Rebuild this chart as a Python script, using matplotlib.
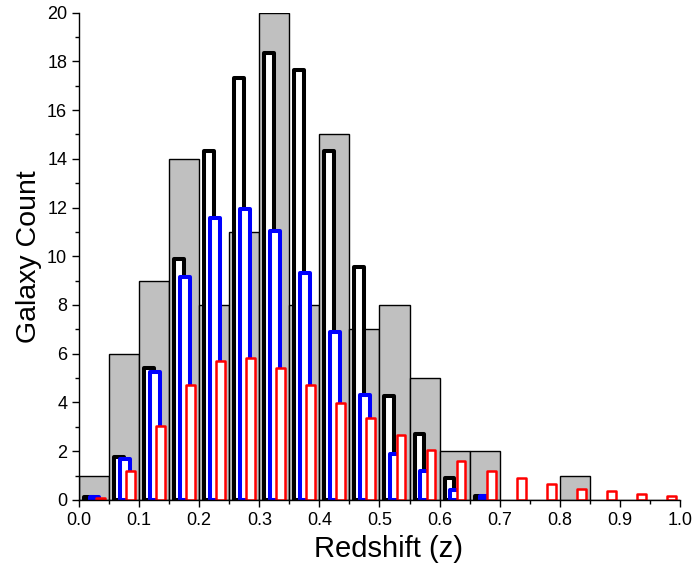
import matplotlib
matplotlib.use("Agg")
import matplotlib.pyplot as plt
import numpy as np
from matplotlib.ticker import MultipleLocator

plt.rcParams['font.family'] = ['Liberation Sans', 'DejaVu Sans']

bin_width = 0.05
bin_edges = np.round(np.arange(0, 1.0, bin_width), 2)  # left edges

gray_counts = [1, 6, 9, 14, 8, 11, 20, 8, 15, 7, 8, 5, 2, 2, 0, 0, 1, 0, 0, 0]
black_counts = [0.12, 1.75, 5.43, 9.9, 14.3, 17.3, 18.33, 17.65, 14.3, 9.55, 4.26, 2.7, 0.88, 0.16]
blue_counts = [0.12, 1.7, 5.26, 9.16, 11.55, 11.92, 11.03, 9.33, 6.9, 4.3, 1.89, 1.19, 0.41, 0.15]
red_counts = [0.08, 1.2, 3.04, 4.71, 5.69, 5.83, 5.42, 4.72, 3.97, 3.37, 2.67, 2.06, 1.61, 1.2,
              0.88, 0.66, 0.46, 0.35, 0.25, 0.17]

xticks = [0.0, 0.1, 0.2, 0.3, 0.4, 0.5, 0.6, 0.7, 0.8, 0.9, 1.0]
yticks = [0, 2, 4, 6, 8, 10, 12, 14, 16, 18, 20]

fig = plt.figure(figsize=(6.96, 5.72), dpi=100)
ax = fig.add_axes([0.1135, 0.126, 0.8635, 0.852])

ax.bar(bin_edges, gray_counts, width=bin_width, align='edge', color='#c0c0c0',
       edgecolor='black', linewidth=1.0, zorder=1)

nb = len(black_counts)
ax.bar(bin_edges[:nb] + 0.0165, black_counts, width=0.0165, align='center', color='white',
       edgecolor='black', linewidth=2.9, joinstyle='round', zorder=2)
ax.bar(bin_edges[:len(blue_counts)] + 0.0258, blue_counts, width=0.0165, align='center', color='white',
       edgecolor='#0000ff', linewidth=2.9, joinstyle='round', zorder=3)
ax.bar(bin_edges[:len(red_counts)] + 0.0357, red_counts, width=0.0148, align='center', color='white',
       edgecolor='#ff0000', linewidth=1.8, joinstyle='round', zorder=4)

ax.set_xlim(0, 1.0)
ax.set_ylim(0, 20)
ax.set_xticks(xticks)
ax.set_xticklabels([f"{v:.1f}" for v in xticks])
ax.set_yticks(yticks)
ax.set_yticklabels([str(v) for v in yticks])
ax.xaxis.set_minor_locator(MultipleLocator(0.05))
ax.yaxis.set_minor_locator(MultipleLocator(1))

for s in ['top', 'right']:
    ax.spines[s].set_visible(False)
for s in ['left', 'bottom']:
    ax.spines[s].set_linewidth(1.0)
    ax.spines[s].set_zorder(5)

ax.tick_params(axis='both', which='major', direction='out', length=5, width=1.0, labelsize=13)
ax.tick_params(axis='both', which='minor', direction='out', length=3, width=1.0)

ax.set_xlabel("Redshift (z)", fontsize=21)
ax.set_ylabel("Galaxy Count", fontsize=20.5, labelpad=4)
ax.xaxis.set_label_coords(0.515, -0.072, transform=ax.transAxes)
ax.xaxis.label.set_va('top')

fig.savefig("out.png", dpi=100)
